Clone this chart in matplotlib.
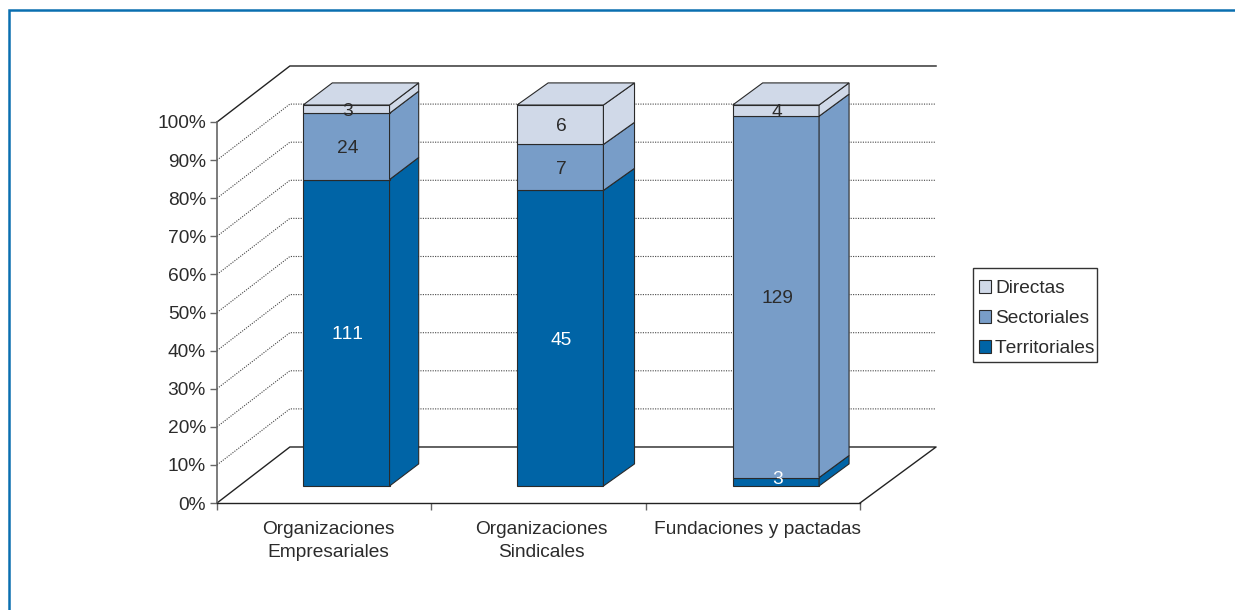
import numpy as np
import matplotlib
matplotlib.use('Agg')
import matplotlib.pyplot as plt
from matplotlib.lines import Line2D
from matplotlib.patches import Patch, Polygon, Rectangle

categories = ['Organizaciones\nEmpresariales', 'Organizaciones\nSindicales', 'Fundaciones y pactadas']
territoriales = [111, 45, 3]
sectoriales = [24, 7, 129]
directas = [3, 6, 4]
y_ticks = [0, 10, 20, 30, 40, 50, 60, 70, 80, 90, 100]

colors = {'Directas': '#D0D9E8', 'Sectoriales': '#789DC8', 'Territoriales': '#0064A6'}
ink = '#2b2b2b'

plt.rcParams['font.family'] = ['Liberation Sans', 'DejaVu Sans']
plt.rcParams['text.kerning_factor'] = 6

fig = plt.figure(figsize=(12.35, 6.10), dpi=100, facecolor='white')
ax = fig.add_axes([217/1235, (610-503)/610, 643/1235, 381/610])
ax.set_xlim(0, 3)
ax.set_ylim(0, 100)

# depth of the fake 3d box, in data units
dx_wall, dy_wall = 0.34, 14.7
wall_right = 3.355
dy_bar = 5.8
dx_bar = [0.136, 0.145, 0.14]
bar_lift = 4.46
bar_w = 0.403
bar_left = [0.402, 1.400, 2.406]

# walls and floor
for v in y_ticks[1:-1]:
	ax.plot([0, dx_wall, wall_right], [v, v+dy_wall, v+dy_wall], color='#444444', lw=0.8, ls=(0, (1, 1.2)), clip_on=False, zorder=1)
ax.plot([0, dx_wall, wall_right, 3], [0, dy_wall, dy_wall, 0], color='#222222', lw=1.0, clip_on=False, zorder=1)
ax.plot([0, dx_wall, wall_right], [100, 100+dy_wall, 100+dy_wall], color='#222222', lw=1.0, clip_on=False, zorder=1)

terr = np.array(territoriales, dtype=float)
sect = np.array(sectoriales, dtype=float)
dire = np.array(directas, dtype=float)
total = terr+sect+dire


def box(x, y0, y1, dx, color):
	x1 = x+bar_w
	y0 = y0+bar_lift
	y1 = y1+bar_lift
	faces = [
		[(x, y0), (x1, y0), (x1, y1), (x, y1)],
		[(x1, y0), (x1+dx, y0+dy_bar), (x1+dx, y1+dy_bar), (x1, y1)],
	]
	for f in faces:
		ax.add_patch(Polygon(f, closed=True, facecolor=color, edgecolor='#2a2a2a', lw=0.8, clip_on=False, zorder=3))


for i in range(3):
	bottom = 0.0
	for name, vals in (('Territoriales', terr), ('Sectoriales', sect), ('Directas', dire)):
		pct = vals[i]/total[i]*100
		box(bar_left[i], bottom, bottom+pct, dx_bar[i], colors[name])
		txt = 'white' if name == 'Territoriales' else ink
		# the thin bottom segment has its label pushed up a little
		nudge = 0.6 if (name == 'Territoriales' and pct < 3) else -0.5
		ax.text(bar_left[i]+bar_w/2+0.006, bottom+pct/2+bar_lift+nudge, '%d' % vals[i], color=txt, fontsize=13.8,
			ha='center', va='center', zorder=5, clip_on=False)
		bottom += pct
	x = bar_left[i]
	y = 100+bar_lift
	ax.add_patch(Polygon([(x, y), (x+bar_w, y), (x+bar_w+dx_bar[i], y+dy_bar), (x+dx_bar[i], y+dy_bar)], closed=True,
		facecolor=colors['Directas'], edgecolor='#2a2a2a', lw=0.8, clip_on=False, zorder=3))

# axes
for s in ('top', 'right'):
	ax.spines[s].set_visible(False)
ax.patch.set_visible(False)
ax.spines['left'].set_color('#666666')
ax.spines['left'].set_linewidth(1.2)
ax.spines['bottom'].set_color('#222222')
ax.spines['bottom'].set_linewidth(1.0)
ax.set_yticks(y_ticks)
ax.set_yticklabels(['%d%%' % v for v in y_ticks], fontsize=13.8, color=ink)
ax.tick_params(axis='y', length=5, width=1.0, color='#666666', pad=3)
ax.set_xticks([0, 1, 2, 3])
ax.set_xticklabels([])
ax.tick_params(axis='x', which='major', length=5, width=1.0, color='#666666')
ax.set_xticks([0.52, 1.515, 2.52], categories, minor=True)
ax.tick_params(axis='x', which='minor', length=0, pad=13, labelsize=13.8, labelcolor=ink)
for lab in ax.get_xticklabels(minor=True):
	lab.set_linespacing(1.42)

handles = [Patch(facecolor=colors[k], edgecolor='#2a2a2a', lw=0.8, label=k) for k in colors]
leg = ax.legend(handles=handles, loc='upper left', bbox_to_anchor=(979/1235, (610-280)/610),
	bbox_transform=fig.transFigure, fontsize=13.8, frameon=False, borderaxespad=0, borderpad=0, labelspacing=0.68,
	handlelength=0.64, handleheight=0.64, handletextpad=0.2, labelcolor=ink)
fig.add_artist(Rectangle((973/1235, (610-362)/610), 124/1235, 94/610, transform=fig.transFigure,
	facecolor='none', edgecolor='#333333', lw=1.0))

# blue page frame
fig.add_artist(Line2D([9/1235, 9/1235, 1], [0, (610-10)/610, (610-10)/610], color='#0A6FB0', lw=1.8,
	solid_joinstyle='miter', transform=fig.transFigure))

fig.savefig('out.png', dpi=100)
